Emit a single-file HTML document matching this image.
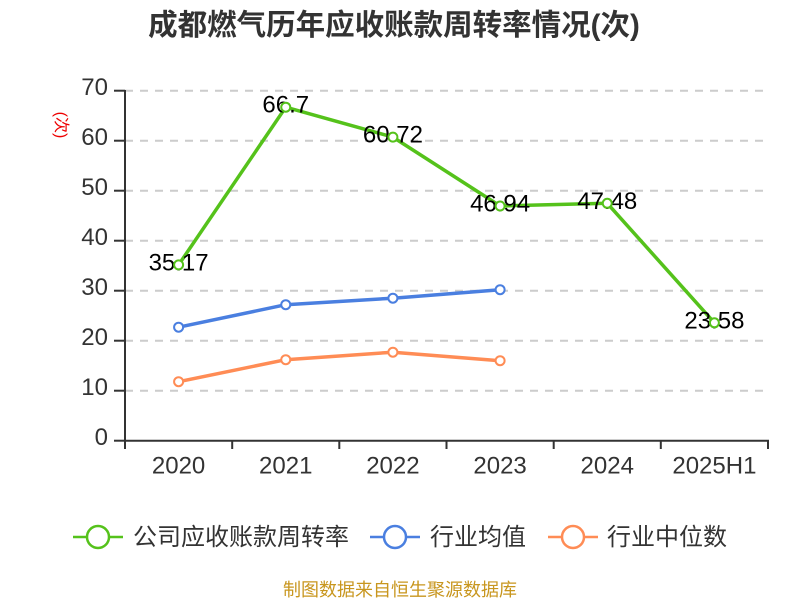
<!DOCTYPE html>
<html><head><meta charset="utf-8"><style>
html,body{margin:0;padding:0;background:#fff;}
svg{display:block;font-family:"Liberation Sans","Noto Sans CJK SC",sans-serif;}
</style></head><body>
<svg width="800" height="600" viewBox="0 0 800 600" xmlns="http://www.w3.org/2000/svg">
<rect width="800" height="600" fill="#fff"/>
<text x="394" y="35" text-anchor="middle" font-size="29.5" font-weight="bold" fill="#333" font-family="'Liberation Sans','Noto Sans CJK SC',sans-serif">成都燃气历年应收账款周转率情况(次)</text>
<text transform="translate(56,125) rotate(90)" text-anchor="middle" font-size="16" fill="#e00">(次)</text>
<g stroke="#cccccc" stroke-width="2" stroke-dasharray="8 7">
<line x1="125" y1="90.7" x2="768" y2="90.7"/>
<line x1="125" y1="140.7" x2="768" y2="140.7"/>
<line x1="125" y1="190.7" x2="768" y2="190.7"/>
<line x1="125" y1="240.7" x2="768" y2="240.7"/>
<line x1="125" y1="290.7" x2="768" y2="290.7"/>
<line x1="125" y1="340.7" x2="768" y2="340.7"/>
<line x1="125" y1="390.7" x2="768" y2="390.7"/>
</g>
<g stroke="#333" stroke-width="2">
<line x1="125" y1="90" x2="125" y2="441"/>
<line x1="124" y1="440.7" x2="769" y2="440.7"/>
<line x1="114" y1="90.7" x2="125" y2="90.7"/>
<line x1="114" y1="140.7" x2="125" y2="140.7"/>
<line x1="114" y1="190.7" x2="125" y2="190.7"/>
<line x1="114" y1="240.7" x2="125" y2="240.7"/>
<line x1="114" y1="290.7" x2="125" y2="290.7"/>
<line x1="114" y1="340.7" x2="125" y2="340.7"/>
<line x1="114" y1="390.7" x2="125" y2="390.7"/>
<line x1="114" y1="440.7" x2="125" y2="440.7"/>
<line x1="125" y1="440" x2="125" y2="449"/>
<line x1="232.2" y1="440" x2="232.2" y2="449"/>
<line x1="339.3" y1="440" x2="339.3" y2="449"/>
<line x1="446.5" y1="440" x2="446.5" y2="449"/>
<line x1="553.7" y1="440" x2="553.7" y2="449"/>
<line x1="660.8" y1="440" x2="660.8" y2="449"/>
<line x1="768" y1="440" x2="768" y2="449"/>
</g>
<g font-size="24" fill="#333" text-anchor="end">
<text x="108" y="95.2">70</text>
<text x="108" y="145.2">60</text>
<text x="108" y="195.2">50</text>
<text x="108" y="245.2">40</text>
<text x="108" y="295.2">30</text>
<text x="108" y="345.2">20</text>
<text x="108" y="395.2">10</text>
<text x="108" y="445.2">0</text>
</g>
<g font-size="24" fill="#333" text-anchor="middle">
<text x="178.6" y="473.5">2020</text>
<text x="285.75" y="473.5">2021</text>
<text x="392.9" y="473.5">2022</text>
<text x="500.1" y="473.5">2023</text>
<text x="607.25" y="473.5">2024</text>
<text x="714.4" y="473.5">2025H1</text>
</g>
<polyline fill="none" stroke="#ff8c55" stroke-width="3.5" stroke-linejoin="round" points="178.6,381.7 285.75,359.7 392.9,352.2 500.1,360.7"/>
<polyline fill="none" stroke="#4a7fe0" stroke-width="3.5" stroke-linejoin="round" points="178.6,327.2 285.75,304.7 392.9,298.2 500.1,289.7"/>
<polyline fill="none" stroke="#55c21b" stroke-width="3.5" stroke-linejoin="round" points="178.6,264.85 285.75,107.2 392.9,137.1 500.1,206.0 607.25,203.3 714.4,322.8"/>
<g fill="#fff" stroke="#ff8c55" stroke-width="2">
<circle cx="178.6" cy="381.7" r="4.5"/><circle cx="285.75" cy="359.7" r="4.5"/><circle cx="392.9" cy="352.2" r="4.5"/><circle cx="500.1" cy="360.7" r="4.5"/>
</g>
<g fill="#fff" stroke="#4a7fe0" stroke-width="2">
<circle cx="178.6" cy="327.2" r="4.5"/><circle cx="285.75" cy="304.7" r="4.5"/><circle cx="392.9" cy="298.2" r="4.5"/><circle cx="500.1" cy="289.7" r="4.5"/>
</g>
<g font-size="24" fill="#000" text-anchor="middle">
<text x="178.6" y="270.3">35.17</text>
<text x="285.75" y="112.7">66.7</text>
<text x="392.9" y="142.6">60.72</text>
<text x="500.1" y="211.5">46.94</text>
<text x="607.25" y="208.8">47.48</text>
<text x="714.4" y="328.3">23.58</text>
</g>
<g fill="#fff" stroke="#55c21b" stroke-width="2">
<circle cx="178.6" cy="264.85" r="4.5"/><circle cx="285.75" cy="107.2" r="4.5"/><circle cx="392.9" cy="137.1" r="4.5"/><circle cx="500.1" cy="206.0" r="4.5"/><circle cx="607.25" cy="203.3" r="4.5"/><circle cx="714.4" cy="322.8" r="4.5"/>
</g>
<g stroke-width="2.5" fill="#fff">
<line x1="73" y1="537" x2="123" y2="537" stroke="#55c21b"/>
<circle cx="98" cy="537" r="11" stroke="#55c21b"/>
<line x1="370" y1="537" x2="420" y2="537" stroke="#4a7fe0"/>
<circle cx="395" cy="537" r="11" stroke="#4a7fe0"/>
<line x1="548" y1="537" x2="598" y2="537" stroke="#ff8c55"/>
<circle cx="573" cy="537" r="11" stroke="#ff8c55"/>
</g>
<g font-size="24" fill="#333">
<text x="133" y="545">公司应收账款周转率</text>
<text x="430" y="545">行业均值</text>
<text x="607" y="545">行业中位数</text>
</g>
<text x="400" y="596" text-anchor="middle" font-size="18" fill="#c8961e">制图数据来自恒生聚源数据库</text>
</svg>
</body></html>
